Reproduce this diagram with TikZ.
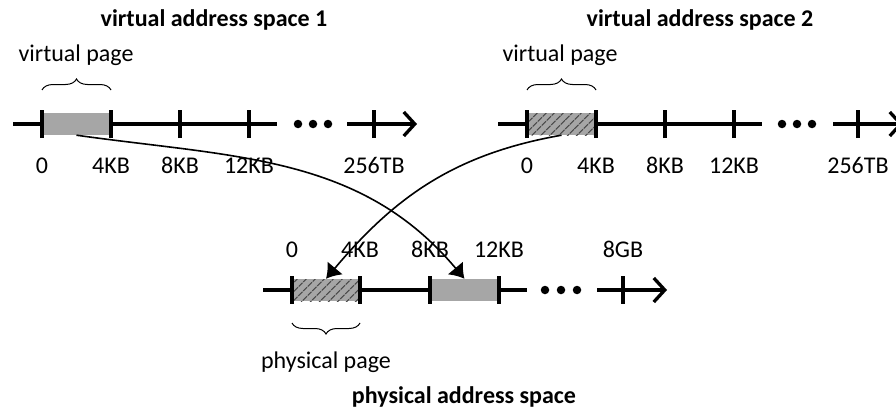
\documentclass[tikz,border=0pt]{standalone}
\usepackage{fontspec}
\setmainfont{Carlito}
\usetikzlibrary{arrows.meta,patterns.meta,decorations.pathreplacing,calc}
\tikzset{>=latex}
\tikzset{
  axis/.style={line width=3.3pt},
  tickmark/.style={line width=3.3pt},
  axisend/.style={line width=3.3pt,-{Straight Barb[length=11pt,width=24pt]}},
  dot/.style={fill,circle,inner sep=0pt,minimum size=8.5pt},
  page/.style={fill=gray!70,draw=none,minimum width=69pt,minimum height=22pt,inner sep=0pt},
  hatched/.style={page,postaction={pattern={Lines[angle=45,distance=6.5pt,line width=1.3pt]},pattern color=black!70}},
  mapping/.style={line width=1.6pt,-{Latex[length=14pt,width=20pt]}},
  addr/.style={font=\fontsize{24}{28}\selectfont,anchor=base},
  title/.style={font=\bfseries\fontsize{24}{28}\selectfont,anchor=base},
  pagebrace/.style={decorate,decoration={brace,amplitude=11pt},line width=1pt},
}

\begin{document}
\begin{tikzpicture}[x=1pt,y=1pt]
  \useasboundingbox (0,0) rectangle (896,408);

  % virtual address space 1
  \coordinate (o1) at (42,284);
  \draw[axis] ($(o1)+(-29,0)$) -- ($(o1)+(235,0)$);
  \node[page] (vp1) at ($(o1)+(34.5,0)$) {};
  \draw[tickmark] ($(o1)+(0,-14)$) -- ($(o1)+(0,14)$);
  \draw[tickmark] ($(o1)+(69,-14)$) -- ($(o1)+(69,14)$);
  \draw[tickmark] ($(o1)+(138,-14)$) -- ($(o1)+(138,14)$);
  \draw[tickmark] ($(o1)+(207,-14)$) -- ($(o1)+(207,14)$);
  \node[dot] (v1e) at ($(o1)+(256,0)$) {};
  \node[dot] (v1f) at ($(o1)+(271,0)$) {};
  \node[dot] (v1g) at ($(o1)+(286,0)$) {};
  \draw[axisend] ($(o1)+(305,0)$) -- ($(o1)+(375,0)$);
  \draw[tickmark] ($(o1)+(332,-14)$) -- ($(o1)+(332,14)$);
  \node[addr] (v1a) at ($(o1)+(0,-49)$) {0};
  \node[addr] (v1b) at ($(o1)+(69,-49)$) {4KB};
  \node[addr] (v1c) at ($(o1)+(138,-49)$) {8KB};
  \node[addr] (v1d) at ($(o1)+(207,-49)$) {12KB};
  \node[addr] (v1h) at ($(o1)+(332,-49)$) {256TB};
  \draw[pagebrace] ($(o1)+(0,34)$) -- ($(o1)+(69,34)$);
  \node[addr] (v1p) at ($(o1)+(34,63)$) {virtual page};
  \node[title] (v1t) at ($(o1)+(172,97)$) {virtual address space 1};

  % virtual address space 2
  \coordinate (o2) at (527,284);
  \draw[axis] ($(o2)+(-29,0)$) -- ($(o2)+(235,0)$);
  \node[hatched] (vp2) at ($(o2)+(34.5,0)$) {};
  \draw[tickmark] ($(o2)+(0,-14)$) -- ($(o2)+(0,14)$);
  \draw[tickmark] ($(o2)+(69,-14)$) -- ($(o2)+(69,14)$);
  \draw[tickmark] ($(o2)+(138,-14)$) -- ($(o2)+(138,14)$);
  \draw[tickmark] ($(o2)+(207,-14)$) -- ($(o2)+(207,14)$);
  \node[dot] (v2e) at ($(o2)+(255,0)$) {};
  \node[dot] (v2f) at ($(o2)+(270,0)$) {};
  \node[dot] (v2g) at ($(o2)+(285,0)$) {};
  \draw[axisend] ($(o2)+(306,0)$) -- ($(o2)+(376,0)$);
  \draw[tickmark] ($(o2)+(331,-14)$) -- ($(o2)+(331,14)$);
  \node[addr] (v2a) at ($(o2)+(0,-49)$) {0};
  \node[addr] (v2b) at ($(o2)+(69,-49)$) {4KB};
  \node[addr] (v2c) at ($(o2)+(138,-49)$) {8KB};
  \node[addr] (v2d) at ($(o2)+(207,-49)$) {12KB};
  \node[addr] (v2h) at ($(o2)+(331,-49)$) {256TB};
  \draw[pagebrace] ($(o2)+(0,34)$) -- ($(o2)+(69,34)$);
  \node[addr] (v2p) at ($(o2)+(33,63)$) {virtual page};
  \node[title] (v2t) at ($(o2)+(173,97)$) {virtual address space 2};

  % physical address space
  \coordinate (o3) at (292,118);
  \draw[axis] ($(o3)+(-29,0)$) -- ($(o3)+(235,0)$);
  \node[hatched] (pp1) at ($(o3)+(34,0)$) {};
  \node[page] (pp2) at ($(o3)+(172.5,0)$) {};
  \draw[tickmark] ($(o3)+(0,14)$) -- ($(o3)+(0,-14)$);
  \draw[tickmark] ($(o3)+(68,14)$) -- ($(o3)+(68,-14)$);
  \draw[tickmark] ($(o3)+(138,14)$) -- ($(o3)+(138,-14)$);
  \draw[tickmark] ($(o3)+(207,14)$) -- ($(o3)+(207,-14)$);
  \node[dot] (p3e) at ($(o3)+(253,0)$) {};
  \node[dot] (p3f) at ($(o3)+(269,0)$) {};
  \node[dot] (p3g) at ($(o3)+(285,0)$) {};
  \draw[axisend] ($(o3)+(305,0)$) -- ($(o3)+(375,0)$);
  \draw[tickmark] ($(o3)+(331,14)$) -- ($(o3)+(331,-14)$);
  \node[addr] (p3a) at ($(o3)+(0,33)$) {0};
  \node[addr] (p3b) at ($(o3)+(68,33)$) {4KB};
  \node[addr] (p3c) at ($(o3)+(138,33)$) {8KB};
  \node[addr] (p3d) at ($(o3)+(207,33)$) {12KB};
  \node[addr] (p3h) at ($(o3)+(331,33)$) {8GB};
  \draw[pagebrace] ($(o3)+(68,-33)$) -- ($(o3)+(0,-33)$);
  \node[addr] (p3p) at ($(o3)+(34,-78)$) {physical page};
  \node[title] (p3t) at ($(o3)+(172,-113)$) {physical address space};

  % page mappings
  \draw[mapping] (vp1.south) to[out=-8,in=130] (pp2.north);
  \draw[mapping] (vp2.south) to[out=190,in=50] (pp1.north);
\end{tikzpicture}
\end{document}
